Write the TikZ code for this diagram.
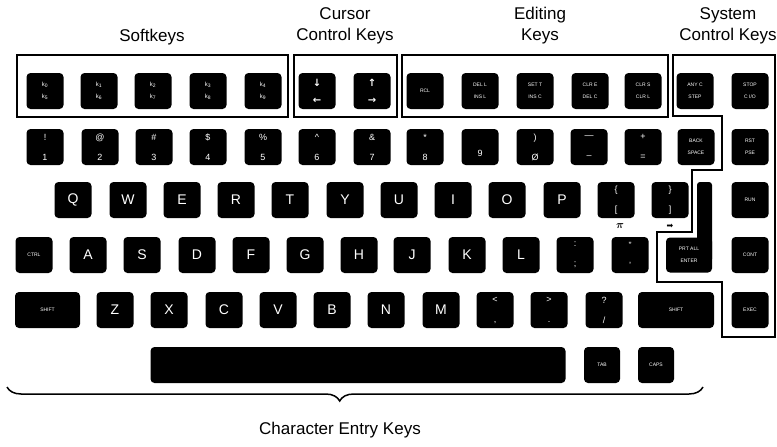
\documentclass[tikz,border=0pt]{standalone}
\usepackage{fontspec}
\setmainfont{Liberation Sans}
\newfontfamily\arrowFont{DejaVu Sans}
\usepackage{bm}
\usetikzlibrary{decorations.pathreplacing}
\tikzset{
    keyCap/.style={fill=black, text=white, rounded corners=4pt, minimum width=37pt,
        minimum height=36pt, inner sep=0pt, align=center},
    letterKey/.style={keyCap, font=\fontsize{14}{14}\selectfont},
    pairKey/.style={keyCap, font=\fontsize{9}{20}\selectfont},
    tinyKey/.style={keyCap, font=\fontsize{5}{12}\selectfont},
    groupBox/.style={draw, line width=1.6pt},
    groupLabel/.style={font=\fontsize{17}{21}\selectfont, align=center},
}

\begin{document}
\begin{tikzpicture}[x=1pt, y=-1pt]
    \useasboundingbox (0,0) rectangle (777,447);

    % GROUP LABELS
    \node[groupLabel] (lblSoft) at (152,37) {Softkeys};
    \node[groupLabel] (lblCursor) at (345,26) {Cursor\\Control Keys};
    \node[groupLabel] (lblEdit) at (540,26) {Editing\\Keys};
    \node[groupLabel] (lblSystem) at (728,26) {System\\Control Keys};

    % GROUP BOXES
    \draw[groupBox] (17,55) rectangle (288,117);
    \draw[groupBox] (294,55) rectangle (397,117);
    \draw[groupBox] (402,55) rectangle (668,117);
    \draw[groupBox] (673,55) -- (775,55) -- (775,337) -- (722,337) -- (722,282)
        -- (657,282) -- (657,232) -- (692,232) -- (692,170) -- (722,170)
        -- (722,116) -- (673,116) -- cycle;

    % TOP ROW: SOFTKEYS, CURSOR, EDITING, SYSTEM
    \foreach \x/\up/\lo [count=\i] in {45/0/5, 99/1/6, 153/2/7, 208/3/8, 263/4/9}
        \node[tinyKey, font=\fontsize{6}{12}\selectfont] (soft\i) at (\x,91)
            {k\textsubscript{\up}\\k\textsubscript{\lo}};
    \node[keyCap, font=\arrowFont\bfseries\fontsize{10}{17}\selectfont] (curDown) at (317,91) {↓\\←};
    \node[keyCap, font=\arrowFont\bfseries\fontsize{10}{17}\selectfont] (curUp) at (372,91) {↑\\→};
    \node[tinyKey] (editRcl) at (425,91) {RCL};
    \foreach \x/\up/\lo [count=\i] in {480/DEL L/INS L, 535/SET T/INS C, 590/CLR E/DEL C, 643/CLR S/CLR L}
        \node[tinyKey] (edit\i) at (\x,91) {\up\\\lo};
    \node[tinyKey] (sysStep) at (695,91) {ANY C\\STEP};
    \node[tinyKey] (sysStop) at (750,91) {STOP\\C I/O};

    % NUMBER ROW
    \foreach \x/\up/\lo [count=\i] in {45/!/1, 100/@/2, 154/\#/3, 208/\$/4, 263/\%/5,
        317/\^{}/6, 372/\&/7, 425/*/8, 480/~/9, 535/)/Ø, 589/—/–, 643/+/=}
        \node[pairKey] (num\i) at (\x,147) {\up\\\lo};
    \node[tinyKey] (backSpace) at (696,147) {BACK\\SPACE};
    \node[tinyKey] (sysReset) at (750,147) {RST\\PSE};

    % LETTER ROW Q-P
    \foreach \x/\l in {73/Q, 128/W, 182/E, 236/R, 290/T, 345/Y, 399/U, 453/I, 507/O, 562/P}
        \node[letterKey] (key\l) at (\x,200) {\l};
    \node[pairKey] (keyLBrack) at (616,200) {\{\\{[}};
    \node[pairKey] (keyRBrack) at (670,200) {\}\\{]}};
    \node[tinyKey] (sysRun) at (750,200) {RUN};
    \node[font=\fontsize{11}{11}\selectfont] (piMark) at (620,226) {$\bm{\pi}$};
    \node[font=\arrowFont\fontsize{8}{8}\selectfont] (arrowMark) at (670,226) {➡};

    % LETTER ROW A-L
    \node[tinyKey] (keyCtrl) at (34,255) {CTRL};
    \foreach \x/\l in {88/A, 142/S, 197/D, 251/F, 305/G, 359/H, 412/J, 467/K, 521/L}
        \node[letterKey] (key\l) at (\x,255) {\l};
    \node[pairKey] (keySemi) at (575,255) {:\\;};
    \node[pairKey] (keyQuote) at (630,255) {"\\'};
    \fill[rounded corners=3pt] (697,182) rectangle (712,262);
    \node[tinyKey, minimum width=46pt, minimum height=35pt] (keyEnter) at (689,255) {PRT ALL\\ENTER};
    \node[tinyKey] (sysCont) at (750,255) {CONT};

    % LETTER ROW Z-M
    \node[tinyKey, minimum width=65pt] (shiftLeft) at (47.5,310) {SHIFT};
    \foreach \x/\l in {115/Z, 169/X, 224/C, 278/V, 332/B, 386/N, 441/M}
        \node[letterKey] (key\l) at (\x,310) {\l};
    \foreach \x/\up/\lo [count=\i] in {495/</{,}, 549/>/., 604/?/{/}}
        \node[pairKey] (punct\i) at (\x,310) {\up\\\lo};
    \node[tinyKey, minimum width=76pt] (shiftRight) at (676,310) {SHIFT};
    \node[tinyKey] (sysExec) at (750,310) {EXEC};

    % SPACE ROW
    \node[keyCap, minimum width=415pt] (spaceBar) at (358,365) {};
    \node[tinyKey, minimum width=36pt] (keyTab) at (602,365) {TAB};
    \node[tinyKey, minimum width=36pt] (keyCaps) at (656,365) {CAPS};

    % CHARACTER ENTRY BRACE
    \coordinate (braceStart) at (7,387);
    \coordinate (braceEnd) at (703,387);
    \draw[decorate, decoration={brace, amplitude=14pt, aspect=0.478, mirror}, line width=1.5pt]
        (braceStart) -- (braceEnd);
    \node[groupLabel] (lblChar) at (340,430) {Character Entry Keys};

\end{tikzpicture}
\end{document}
